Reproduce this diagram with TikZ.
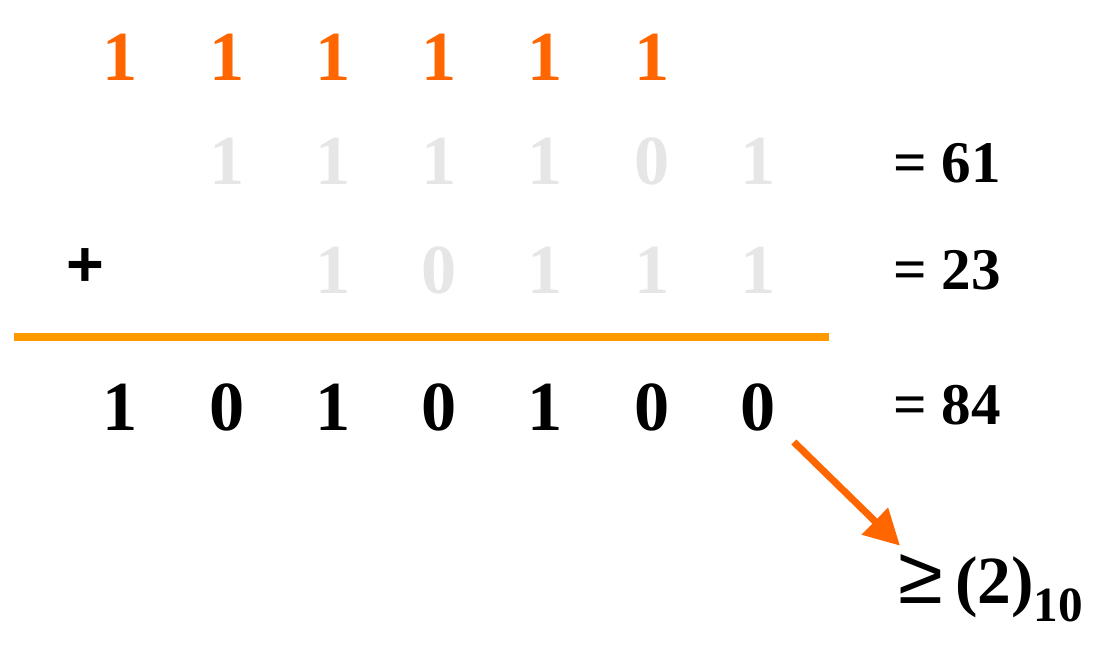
\documentclass[tikz,border=0pt]{standalone}
\usepackage{fontspec}
\setmainfont{Liberation Serif}
\setsansfont{Liberation Sans}
\usetikzlibrary{arrows.meta, positioning}
\definecolor{CarryOrange}{HTML}{FF6600}
\definecolor{RuleOrange}{HTML}{FF9900}
\definecolor{FadedGray}{HTML}{E6E6E6}
\tikzset{
    % digit styles
    digit/.style={
        inner sep=0pt,
        font=\fontsize{50}{60}\selectfont\bfseries
    },
    carry/.style={digit, text=CarryOrange},
    faded/.style={digit, text=FadedGray},
    sumdigit/.style={digit, text=black},
    value/.style={
        inner sep=0pt,
        anchor=west,
        font=\fontsize{42}{50}\selectfont\bfseries
    },
    % arrow style
    carryarrow/.style={
        -{Triangle[length=0.88cm, width=0.9cm]},
        line width=5pt,
        draw=CarryOrange
    }
}

\begin{document}
\begin{tikzpicture}[x=0.025cm, y=-0.025cm]
    \useasboundingbox (0,0) rectangle (1115,668);

    % carry row
    \foreach \i/\x in {1/120, 2/227, 3/333, 4/439, 5/545, 6/652}
        \node[carry] (c\i) at (\x,57) {1};

    % first operand
    \foreach \i/\x/\d in {1/227/1, 2/333/1, 3/439/1, 4/545/1, 5/652/0, 6/758/1}
        \node[faded] (a\i) at (\x,161) {\d};
    \node[value] (va) at (893,163) {= 61};

    % second operand
    \node[inner sep=0pt, font=\fontsize{46}{50}\selectfont\sffamily\bfseries] (plus) at (85,268) {+};
    \foreach \i/\x/\d in {1/333/1, 2/439/0, 3/545/1, 4/652/1, 5/758/1}
        \node[faded] (b\i) at (\x,270) {\d};
    \node[value] (vb) at (893,270) {= 23};

    % rule
    \coordinate (rl) at (14,337);
    \coordinate (rr) at (829,337);
    \draw[RuleOrange, line width=5pt] (rl) -- (rr);

    % sum
    \foreach \i/\x/\d in {1/120/1, 2/227/0, 3/333/1, 4/439/0, 5/545/1, 6/652/0, 7/758/0}
        \node[sumdigit] (s\i) at (\x,407) {\d};
    \node[value] (vs) at (893,405) {= 84};

    % result
    \node[inner sep=0pt, anchor=base west, font=\fontsize{48}{50}\selectfont\bfseries] (res) at (898,603)
        {{\fontsize{58}{58}\selectfont\mdseries\sffamily ≥}\hspace{0.18em}(2)\raisebox{-13pt}{\fontsize{35}{40}\selectfont 10}};
    \draw[carryarrow] ([shift={(18,11)}]s7.south east) -- ([shift={(2,-8)}]res.north west);
\end{tikzpicture}
\end{document}
